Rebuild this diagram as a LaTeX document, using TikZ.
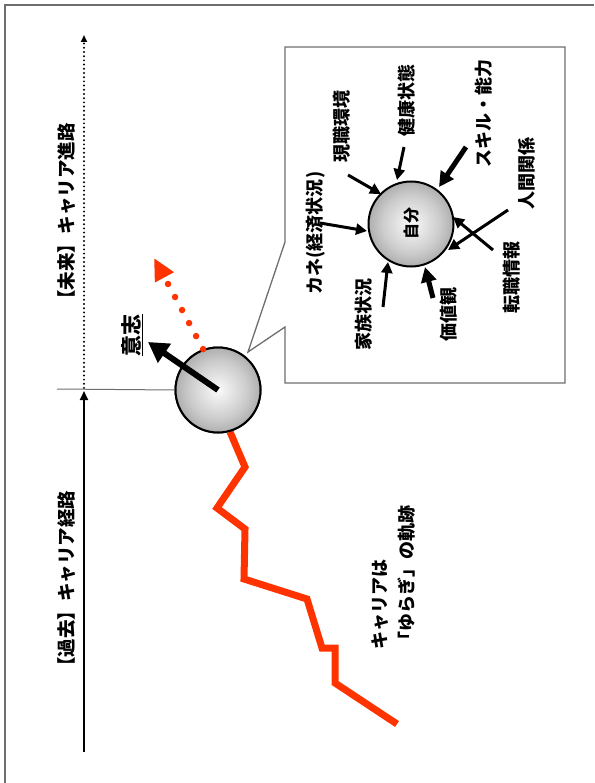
\documentclass[tikz,border=0pt]{standalone}
\usepackage{fontspec}
\setmainfont{Noto Sans CJK JP}
\usetikzlibrary{arrows.meta}
\definecolor{zig}{RGB}{255,51,0}
\definecolor{framec}{RGB}{110,110,110}
\pgfdeclareradialshading{myball}{\pgfpoint{0bp}{0bp}}{color(0bp)=(gray!4); color(17bp)=(gray!40); color(35bp)=(gray!92); color(50bp)=(gray!92)}
\begin{document}
\begin{tikzpicture}[x=1pt,y=-1pt,
  lab/.style={font=\bfseries\fontsize{18.5}{22}\selectfont, rotate=90, inner sep=0pt},
  clab/.style={font=\bfseries\fontsize{18}{20}\selectfont, rotate=90, inner sep=0pt},
  ball/.style={circle, draw=black, line width=2pt, shading=myball, minimum size=85pt, inner sep=0pt},
  thinarr/.style={line width=3pt, -{Triangle[length=11pt,width=11pt]}},
  thickarr/.style={line width=5pt, -{Triangle[length=15pt,width=15pt]}},
  boxline/.style={draw=framec, line width=1.3pt}]
\useasboundingbox (0,0) rectangle (594,783);
% outer frame
\draw[boxline] (5,783) -- (5,5) -- (594,5);
% callout box
\draw[boxline, fill=white] (285,242) -- (285,47) -- (565,47) -- (565,383) -- (285,383) -- (285,327) -- (248,352) -- cycle;
% axes
\coordinate (ax0) at (84,752);
\coordinate (axm) at (84,391);
\coordinate (axd) at (84,388);
\coordinate (ax1) at (84,35);
\coordinate (hl0) at (57,389);
\draw[line width=2pt, -{Triangle[length=9pt,width=8pt]}] (ax0) -- (axm);
\draw[line width=2.2pt, line cap=round, dash pattern=on 0pt off 4.2pt, -{Triangle[length=7pt,width=6pt]}] (axd) -- (ax1);
\node[lab] (mirai) at (67,216) {【未来】キャリア進路};
\node[lab] (kako) at (67,583) {【過去】キャリア経路};
% main ball
\node[ball] (me) at (218,390) {};
\draw[framec, line width=1pt] (hl0) -- (me.west);
\draw[zig, line width=7pt, line join=miter] (me.-74) -- (245,467) -- (217,508) -- (245,529) -- (244,579) -- (307,599) -- (322,648) -- (335,648) -- (335,683) -- (397,724);
\node[ball] (me2) at (218,390) {};
\coordinate (redtip) at (154,258);
\coordinate (willtip) at (148,342);
\draw[zig, line width=6.5pt, line cap=round, dash pattern=on 0pt off 14.8pt, -{Triangle[length=22pt,width=20pt]}] (me2.110) -- (redtip);
\draw[line width=6pt, -{Triangle[length=20pt,width=22pt]}] (me2.center) -- (willtip);
\node[font=\bfseries\fontsize{21}{22}\selectfont, rotate=90, inner sep=0pt] (will) at (132,335) {\underline{意志}};
\node[lab, align=left, anchor=west, font=\bfseries\fontsize{18}{27}\selectfont] (yuragi) at (394,650) {キャリアは\\「ゆらぎ」の軌跡};
% self ball
\node[ball] (self) at (411,224) {};
\node[font=\bfseries\fontsize{16}{16}\selectfont, rotate=90, inner sep=0pt] (selft) at (self) {自分};
% labels
\node[clab] (kane) at (316,233) {カネ(経済状況)};
\node[clab] (gen) at (342,127) {現職環境};
\node[clab] (ken) at (407,101) {健康状態};
\node[clab] (ski) at (484,114) {スキル・能力};
\node[clab] (nin) at (527,174) {人間関係};
\node[clab] (ten) at (512,277) {転職情報};
\node[clab] (kac) at (449,314) {価値観};
\node[clab] (kaz) at (364,314) {家族状況};
% arrows
\coordinate (a1s) at (320,223); \coordinate (a1e) at (367,231);
\coordinate (a2s) at (348,175); \coordinate (a2e) at (381,194);
\coordinate (a3s) at (404,147); \coordinate (a3e) at (397,180);
\coordinate (a4s) at (466,147); \coordinate (a4e) at (439,187);
\coordinate (a5s) at (508,210); \coordinate (a5e) at (448,250);
\coordinate (a6s) at (493,250); \coordinate (a6e) at (453,217);
\coordinate (a7s) at (433,298); \coordinate (a7e) at (425,267);
\coordinate (a8s) at (383,307); \coordinate (a8e) at (388,262);
\draw[thinarr] (a1s) -- (a1e);
\draw[thinarr] (a2s) -- (a2e);
\draw[thinarr] (a3s) -- (a3e);
\draw[thickarr] (a4s) -- (a4e);
\draw[thinarr] (a5s) -- (a5e);
\draw[thinarr] (a6s) -- (a6e);
\draw[thickarr] (a7s) -- (a7e);
\draw[thinarr] (a8s) -- (a8e);
\end{tikzpicture}
\end{document}
